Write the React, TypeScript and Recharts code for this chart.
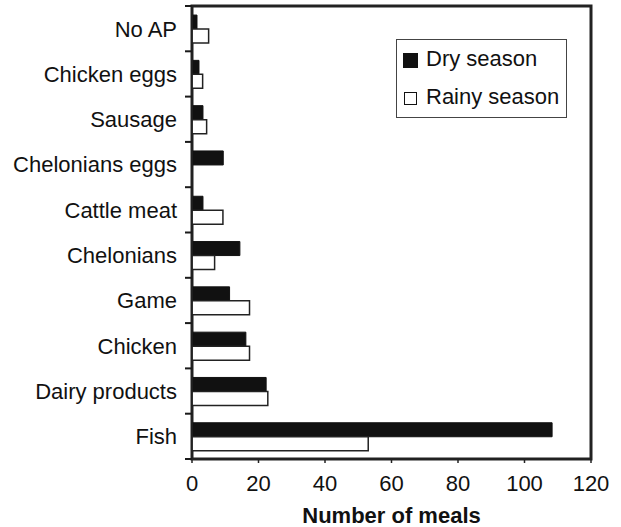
import React from 'react';
import { BarChart, Bar, XAxis, YAxis, ReferenceArea } from 'recharts';

const categories = ['No AP', 'Chicken eggs', 'Sausage', 'Chelonians eggs', 'Cattle meat', 'Chelonians', 'Game', 'Chicken', 'Dairy products', 'Fish'];
const drySeason = [1.5, 2.1, 3.3, 9.4, 3.3, 14.4, 11.3, 16.2, 22.3, 108.3];
const rainySeason = [5, 3.2, 4.4, 0, 9.3, 6.8, 17.3, 17.3, 22.8, 53];
const xTicks = [0, 20, 40, 60, 80, 100, 120];

const data = categories.map((name, i) => ({ name, dry: drySeason[i], rainy: rainySeason[i] }));

const FONT = 'Liberation Sans, Arial, Helvetica, sans-serif';
const INK = '#111';

// label at the band centre, tick marks (small filled rects) on the band edges
const CategoryTick = (props: any) => {
  const { x, y, payload, index } = props;
  const half = payload && payload.offset ? payload.offset : 0;
  const axisX = x + 15;
  const top = y - half;
  const bottom = y + half;
  return (
    <g>
      <text x={x} y={y} dy="0.36em" textAnchor="end" fontSize={22} fill={INK} fontFamily={FONT}>
        {payload.value}
      </text>
      <rect x={axisX - 7} y={top - 1} width={7} height={2} fill="#1a1a1a" />
      {index === categories.length - 1 && (
        <rect x={axisX - 7} y={bottom - 1} width={7} height={2} fill="#1a1a1a" />
      )}
    </g>
  );
};

const LegendBox = () => (
  <div style={{
    position: 'absolute',
    left: 396,
    top: 39,
    width: 169,
    height: 77,
    border: '1px solid #444',
    background: '#fff',
    fontFamily: FONT,
    fontSize: 22,
    color: INK
  }}>
    <div style={{ position: 'absolute', left: 6, top: 13, width: 15, height: 15, background: INK }} />
    <div style={{ position: 'absolute', left: 29, top: 6, lineHeight: '26px' }}>Dry season</div>
    <div style={{ position: 'absolute', left: 7, top: 52, width: 11, height: 11, border: '1px solid #111', background: '#fff' }} />
    <div style={{ position: 'absolute', left: 29, top: 44, lineHeight: '26px' }}>Rainy season</div>
  </div>
);

export default function App() {
  return (
    <div style={{ position: 'absolute', left: 0, top: 0, width: 621, height: 527, background: '#fff' }}>
      <BarChart
        width={621}
        height={527}
        data={data}
        layout="vertical"
        margin={{ top: 6, right: 30, bottom: 0, left: 0 }}
        barCategoryGap="20%"
        barGap={0}
      >
        <YAxis
          yAxisId="cat"
          type="category"
          dataKey="name"
          width={192}
          tickLine={false}
          tickSize={6}
          tickMargin={9}
          axisLine={{ stroke: '#222', strokeWidth: 1.5 }}
          tick={<CategoryTick />}
        />
        <XAxis
          type="number"
          domain={[0, 120]}
          ticks={xTicks}
          height={68}
          tickSize={4}
          tickMargin={12}
          axisLine={{ stroke: '#222', strokeWidth: 1.5 }}
          tickLine={{ stroke: '#222', strokeWidth: 1.5 }}
          tick={{ fontSize: 22, fill: INK, fontFamily: FONT }}
          label={{ value: 'Number of meals', position: 'insideBottom', offset: 4, fontSize: 22, fontWeight: 'bold', fill: INK, fontFamily: FONT }}
        />
        <ReferenceArea yAxisId="cat" x1={0} x2={120} fill="none" stroke="#222" strokeWidth={3} />
        <Bar dataKey="dry" name="Dry season" yAxisId="cat" fill={INK} stroke={INK} strokeWidth={1} isAnimationActive={false} />
        <Bar dataKey="rainy" name="Rainy season" yAxisId="cat" fill="#fff" stroke="#222" strokeWidth={1.5} isAnimationActive={false} />
      </BarChart>
      <LegendBox />
    </div>
  );
}
